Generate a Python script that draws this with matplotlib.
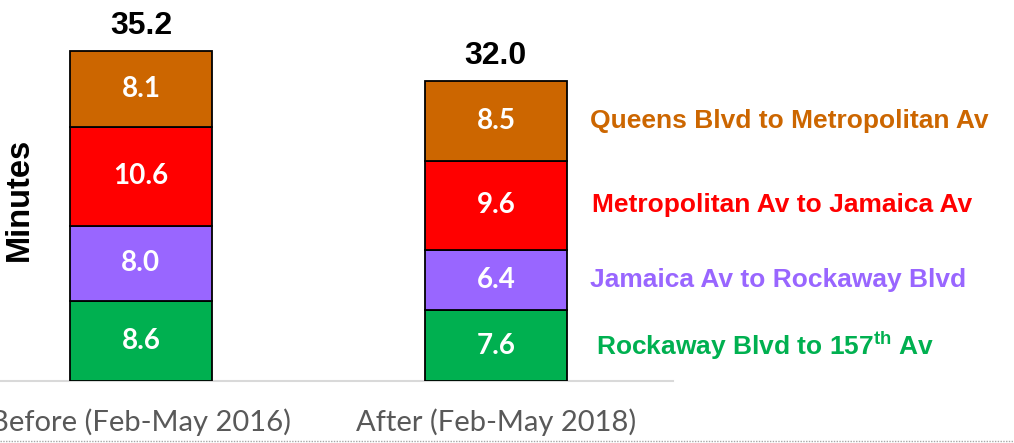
import matplotlib.pyplot as plt
from matplotlib.lines import Line2D

plt.rcParams["mathtext.fontset"] = "custom"
plt.rcParams["mathtext.rm"] = "Liberation Sans"
plt.rcParams["mathtext.bf"] = "Liberation Sans:bold"

periods = ["Before (Feb-May 2016)", "After (Feb-May 2018)"]
segments = [
    "Rockaway Blvd to 157$^{\\mathbf{th}}$ Av",
    "Jamaica Av to Rockaway Blvd",
    "Metropolitan Av to Jamaica Av",
    "Queens Blvd to Metropolitan Av",
]
minutes = {
    "Rockaway Blvd to 157$^{\\mathbf{th}}$ Av": [8.6, 7.6],
    "Jamaica Av to Rockaway Blvd": [8.0, 6.4],
    "Metropolitan Av to Jamaica Av": [10.6, 9.6],
    "Queens Blvd to Metropolitan Av": [8.1, 8.5],
}
totals = [35.2, 32.0]
colors = ["#00B050", "#9966FF", "#FF0000", "#CC6600"]

W, H = 1014, 443
fig = plt.figure(figsize=(W / 100, H / 100), dpi=100)
fig.patch.set_facecolor("white")
ax = fig.add_axes([0, 62 / H, 673 / W, 381 / H])

x = list(range(len(periods)))
bottom = [0.0] * len(periods)
label_dx = [0.283, 0.265, 0.271, 0.265]
for seg, col, dx in zip(segments, colors, label_dx):
    vals = minutes[seg]
    ax.bar(x, vals, width=0.4, bottom=bottom, color=col,
           edgecolor="black", linewidth=1.3, zorder=3)
    for i, v in enumerate(vals):
        ax.text(x[i], bottom[i] + v / 2, f"{v:.1f}", ha="center", va="center",
                color="white", fontsize=20, fontweight="bold", family="Lato")
    # legend-like label next to the second bar
    ax.text(x[-1] + dx, bottom[-1] + vals[-1] / 2, seg, ha="left", va="center",
            color=col, fontsize=19, fontweight="bold", family="Liberation Sans",
            clip_on=False)
    bottom = [b + v for b, v in zip(bottom, vals)]

for i, t in enumerate(totals):
    ax.text(x[i], t + 1.2, f"{t:.1f}", ha="center", va="bottom",
            fontsize=23, fontweight="bold", family="Liberation Sans")

ax.set_xlim(-0.397, 1.499)
ax.set_ylim(0, 40.8)
ax.set_xticks(x)
ax.set_xticklabels(periods, fontsize=21, color="#595959", family="Lato")
ax.tick_params(axis="x", length=0, pad=20)
ax.set_yticks([])
for s in ["top", "right", "left"]:
    ax.spines[s].set_visible(False)
ax.spines["bottom"].set_color("#D9D9D9")
ax.spines["bottom"].set_linewidth(1.5)

fig.text(19 / W, 1 - 199 / H, "Minutes", rotation=90, ha="center", va="center",
         fontsize=23.5, fontweight="bold", family="Liberation Sans")

fig.add_artist(Line2D([0, 1], [1 - 441 / H, 1 - 441 / H], transform=fig.transFigure,
                      color="#A6A6A6", linewidth=1.0, linestyle=(0, (1, 1))))

fig.savefig("out.png", dpi=100, facecolor="white")
